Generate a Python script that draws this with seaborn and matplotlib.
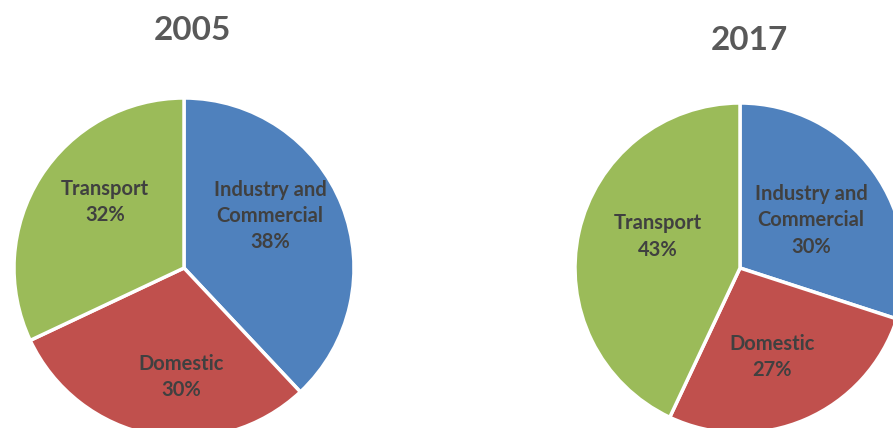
import matplotlib
matplotlib.use("Agg")
import matplotlib.pyplot as plt
import seaborn as sns

# ---- data ----
categories = ["Industry and\nCommercial", "Domestic", "Transport"]
years = ["2005", "2017"]
values_2005 = [38, 30, 32]
values_2017 = [30, 27, 43]
colors = ["#4F81BD", "#C0504D", "#9BBB59"]

sns.set_theme(style="white")
plt.rcParams['font.family'] = ['Lato', 'DejaVu Sans']

W, H = 893, 428
fig = plt.figure(figsize=(W / 100, H / 100), dpi=100)
fig.patch.set_facecolor("white")

# layout (pixels from top-left) and label offsets in pie-radius units
panels = [
    dict(values=values_2005, year=years[0], cx=184, cy=268, R=170, title_xy=(192.5, 31),
         label_xy=[(0.506, 0.306), (-0.018, -0.641), (-0.465, 0.388)]),
    dict(values=values_2017, year=years[1], cx=740, cy=268, R=165, title_xy=(749, 40),
         label_xy=[(0.43, 0.29), (0.194, -0.54), (-0.50, 0.19)]),
]

half = 1.25
for p in panels:
    size = 2 * half * p['R']
    ax = fig.add_axes([(p['cx'] - size / 2) / W, (H - p['cy'] - size / 2) / H, size / W, size / H])
    ax.pie(p['values'], colors=colors, startangle=90, counterclock=False, radius=1,
           wedgeprops=dict(edgecolor='white', linewidth=2.5))
    ax.set_xlim(-half, half)
    ax.set_ylim(-half, half)
    ax.set_aspect('equal')
    ax.axis('off')
    for cat, v, (lx, ly) in zip(categories, p['values'], p['label_xy']):
        ax.text(lx, ly, f"{cat}\n{v}%", ha='center', va='center', fontsize=14.5,
                fontweight='bold', color='#404040', linespacing=1.4)
    fig.text(p['title_xy'][0] / W, 1 - p['title_xy'][1] / H, p['year'], ha='center', va='center',
             fontsize=24, fontweight='bold', color='#595959')

fig.savefig("out.png", dpi=100, facecolor="white")
